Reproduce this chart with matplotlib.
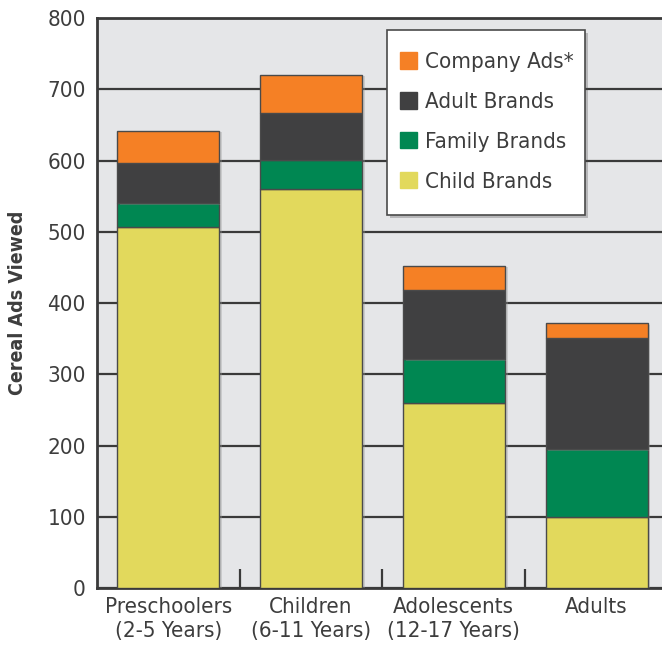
import numpy as np
import matplotlib
matplotlib.use("Agg")
import matplotlib.pyplot as plt
import matplotlib.patches as mpatches
import matplotlib.patheffects as pe

plt.rcParams['font.family'] = ['DejaVu Sans']
plt.rcParams['font.stretch'] = 'condensed'

groups = ['Preschoolers\n(2-5 Years)', 'Children\n(6-11 Years)',
          'Adolescents\n(12-17 Years)', 'Adults']
child = np.array([507, 560, 260, 100])
family = np.array([33, 41, 61, 95])
adult = np.array([57, 66, 98, 156])
company = np.array([45, 53, 33, 21])

series = [('Child Brands', child, '#e2d95c'),
          ('Family Brands', family, '#008752'),
          ('Adult Brands', adult, '#404041'),
          ('Company Ads*', company, '#f58025')]

txt = '#3d3d3d'
line = '#3a3a3a'

fig = plt.figure(figsize=(6.62, 6.46), dpi=100)
ax = fig.add_axes([0.1465, 0.0893, 0.8625, 0.8828])
ax.set_facecolor('#e5e6e8')

x = np.arange(len(groups))
bottom = np.zeros(len(groups))
shadow = [pe.SimplePatchShadow(offset=(2, -1), shadow_rgbFace='#9a9a9a', alpha=0.35), pe.Normal()]
for name, vals, col in series:
    bars = ax.bar(x, vals, 0.715, bottom=bottom, color=col, edgecolor='#4a4a4a',
                  linewidth=1.0, label=name, zorder=3)
    for b in bars:
        b.set_path_effects(shadow)
    bottom += vals

ax.set_xlim(-0.5, 3.5)
ax.set_ylim(0, 800)
ax.set_yticks(np.arange(0, 801, 100))
ax.yaxis.grid(True, color=line, linewidth=1.6, zorder=1)
ax.set_axisbelow(True)
ax.tick_params(axis='y', length=0, pad=8, labelsize=16, labelcolor=txt)

ax.set_xticks([0.5, 1.5, 2.5])
ax.set_xticklabels([])
ax.tick_params(axis='x', which='major', direction='in', length=14, width=1.6, color=line)
ax.set_xticks(x, minor=True)
ax.set_xticklabels(groups, minor=True, fontsize=16, color=txt, linespacing=1.25)
ax.tick_params(axis='x', which='minor', length=0, pad=6)

for s in ['left', 'bottom', 'top']:
    ax.spines[s].set_color(line)
    ax.spines[s].set_linewidth(2)
ax.spines['right'].set_visible(False)

ax.set_ylabel('Cereal Ads Viewed', fontsize=14, fontweight='bold', color=txt, labelpad=15)

# legend box drawn separately so the padding can differ per side
box = mpatches.Rectangle((0.508, 0.6546), 0.347, 0.3244, transform=ax.transAxes,
                         facecolor='white', edgecolor='#4a4a4a', linewidth=1.2, zorder=5)
box.set_path_effects([pe.SimplePatchShadow(offset=(2, -2), alpha=0.3), pe.Normal()])
ax.add_patch(box)

handles = [mpatches.Patch(color=c, label=n) for n, _, c in series[::-1]]
leg = ax.legend(handles=handles, loc='center left', bbox_to_anchor=(0.5306, 0.8176),
                fontsize=16, frameon=False,
                handlelength=0.75, handleheight=0.75, handletextpad=0.36,
                labelspacing=0.89, borderpad=0, borderaxespad=0)
for t in leg.get_texts():
    t.set_color(txt)
leg.set_zorder(6)

fig.savefig('out.png', dpi=100)
